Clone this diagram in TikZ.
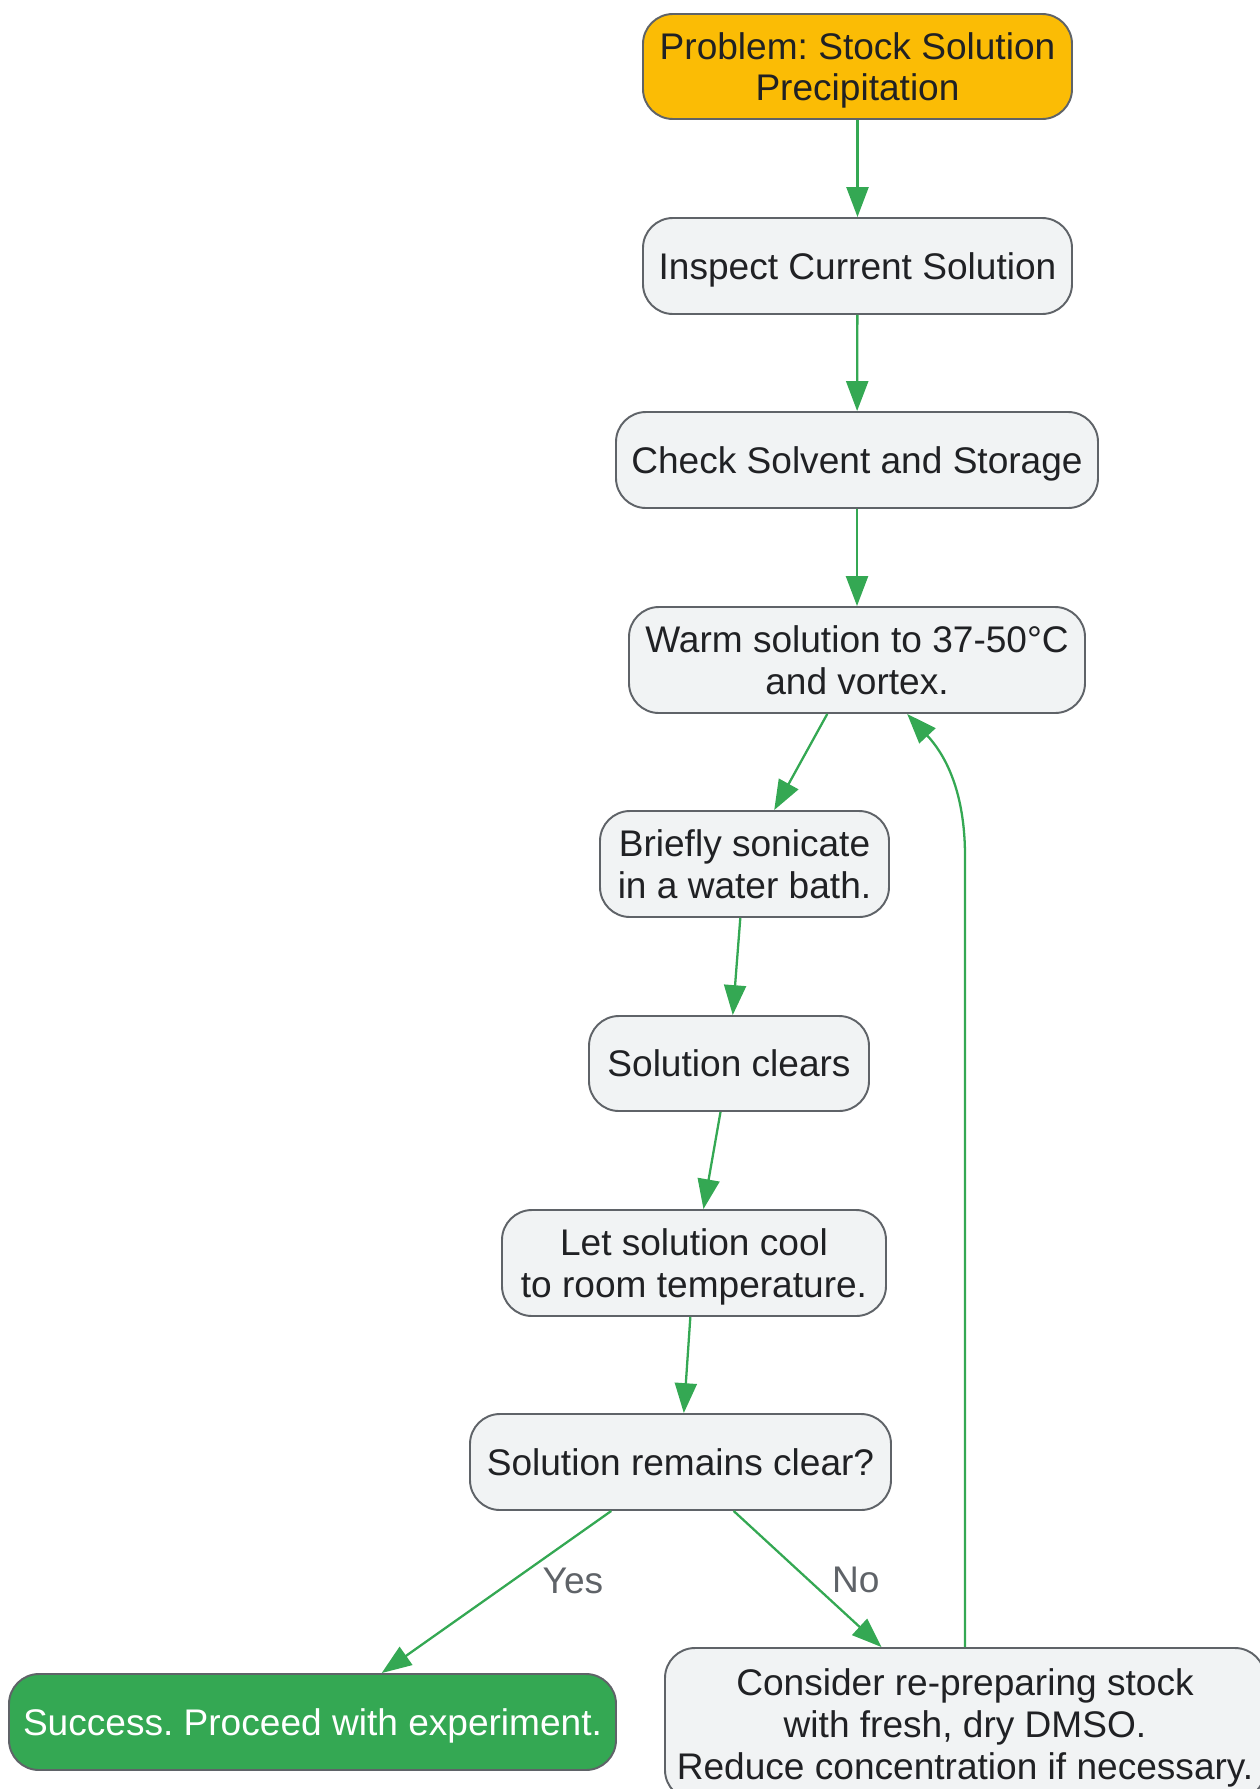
\documentclass[tikz,border=0pt]{standalone}
\usepackage{fontspec}
\setmainfont{Liberation Sans}
\frenchspacing
\usetikzlibrary{arrows.meta}
\definecolor{boxline}{HTML}{5F6368}
\definecolor{boxfill}{HTML}{F1F3F4}
\definecolor{boxtext}{HTML}{202124}
\definecolor{startfill}{HTML}{FBBC05}
\definecolor{linkgreen}{HTML}{34A853}
\begin{document}
\begin{tikzpicture}
[x=0.02cm, y=-0.02cm,
  stepbox/.style={shape=rectangle,rounded corners=0.6cm,draw=boxline,line width=1.1pt,%
    fill=boxfill,text=boxtext,align=center,inner sep=0pt,text depth=0pt,%
    font=\fontsize{21.1}{23.8}\selectfont},%
  startbox/.style={stepbox,fill=startfill},%
  donebox/.style={stepbox,fill=linkgreen,text=white},%
  linkline/.style={-{Triangle[length=17pt,width=12.5pt]},draw=linkgreen,line width=1.3pt},%
  linklabel/.style={text=boxline,inner sep=0pt,anchor=west,font=\fontsize{21.1}{23.8}\selectfont}]
\useasboundingbox (0,0) rectangle (1259,1789);
%% nodes or boxes
\foreach \nodename/\x/\y/\w/\h/\kind/\caption in {
  prob/857.5/66.5/429/105/startbox/{Problem: Stock Solution\\Precipitation},
  inspect/857.5/266/429/96/stepbox/{Inspect Current Solution},
  check/857/460/482/96/stepbox/{Check Solvent and Storage},
  warm/857/660/456/106/stepbox/{Warm solution to 37-50°C\\and vortex.},
  sonicate/744.5/864/289/106/stepbox/{Briefly sonicate\\in a water bath.},
  clears/729/1063.5/280/95/stepbox/{Solution clears},
  cool/694/1263/384/106/stepbox/{Let solution cool\\to room temperature.},
  remains/680.5/1462/421/96/stepbox/{Solution remains clear?},
  success/312.5/1722/607/96/donebox/{Success. Proceed with experiment.},
  consider/965/1724/600/152/stepbox/{Consider re-preparing stock\\with fresh, dry DMSO.\\Reduce concentration if necessary.}}
{
  \node (\nodename) at (\x,\y) [\kind,minimum width=\w*0.02cm,minimum height=\h*0.02cm] {\caption};
}
%% links
\path
\foreach \startnode/\endnode in {prob/inspect, inspect/check, check/warm,
  warm/sonicate, sonicate/clears, clears/cool, cool/remains} {
  (\startnode) edge[linkline] (\endnode)
};
\draw[linkline] (remains) -- (success) node[linklabel,pos=0.43,xshift=0.58cm] {Yes};
\draw[linkline] (remains) -- (consider) node[linklabel,pos=0.51,xshift=0.44cm] {No};
%% back to warming
\coordinate (backbend) at (965,856);
\draw[linkline] (consider.north) -- (backbend) .. controls (965,800) and (950,760) .. (warm);
\end{tikzpicture}
\end{document}
